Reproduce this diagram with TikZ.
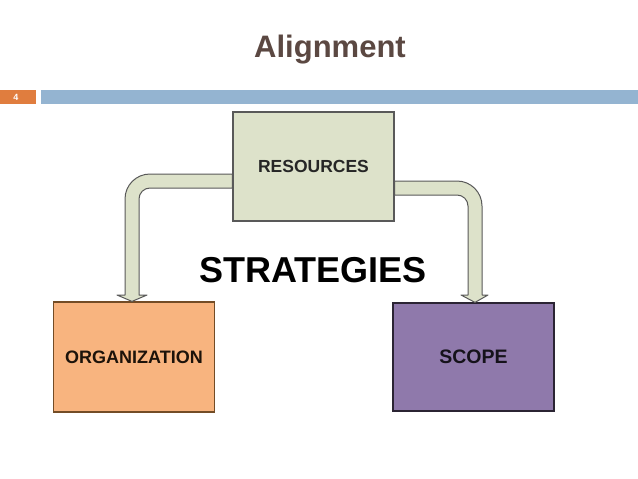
\documentclass[tikz,border=0pt]{standalone}
\usepackage{fontspec}
\setmainfont{Liberation Sans}
\usetikzlibrary{positioning}
\definecolor{titlebrown}{HTML}{5B4842}
\definecolor{numorange}{HTML}{E07D3E}
\definecolor{barblue}{HTML}{94B4D1}
\definecolor{sage}{HTML}{DDE2CA}
\definecolor{peach}{HTML}{F8B47F}
\definecolor{lilac}{HTML}{8F79AB}
\tikzset{
  box/.style={draw, line width=1.2pt, minimum width=161pt, minimum height=109pt,
    font=\fontsize{17.5}{19}\selectfont\bfseries, inner sep=0pt},
  band/.style={draw=black!65, line width=1pt, fill=sage, line join=round}
}
\begin{document}
\begin{tikzpicture}[x=1pt, y=-1pt]
  \useasboundingbox[fill=white] (0,0) rectangle (638,479);
  % ---- Header ----
  \node[font=\fontsize{31}{34}\selectfont\bfseries, text=titlebrown] (title) at (330,50) {Alignment};
  \fill[numorange] (0,90) rectangle (36,104);
  \node[font=\fontsize{9}{10}\selectfont\bfseries, text=white] (num) at (16,97) {4};
  \fill[barblue] (41,90) rectangle (638,104);

  % ---- Boxes ----
  \node[box, fill=sage, draw=black!65, text=black!85] (res) at (313.5,166.5) {RESOURCES};
  \node[box, fill=peach, draw=brown!60!black, text=black!85!brown, minimum height=110pt,
        font=\fontsize{18}{20}\selectfont\bfseries] (org) at (134,357) {ORGANIZATION};
  \node[box, fill=lilac, draw=black!70!lilac, text=black!85!lilac, minimum height=108pt,
        font=\fontsize{19.5}{21}\selectfont\bfseries] (scope) at (473.5,357) {SCOPE};
  \node[font=\fontsize{36}{40}\selectfont\bfseries] (strat) at (313,270) {STRATEGIES};

  % ---- Bent arrows ----
  \draw[band] ([yshift=-7.5pt]res.west) -- (150,174) arc[start angle=90, end angle=180, radius=25pt]
    -- (125,295) -- (117,295) -- ([xshift=-2pt]org.north) -- (147,295) -- (139,295)
    -- (139,199) arc[start angle=180, end angle=90, radius=11pt] -- ([yshift=-21.5pt]res.west) -- cycle;
  \draw[band] ([yshift=-14.5pt]res.east) -- (457,181) arc[start angle=90, end angle=0, radius=25pt]
    -- (482,295) -- (488,295) -- ([xshift=1.5pt]scope.north) -- (461,295) -- (468,295)
    -- (468,206) arc[start angle=0, end angle=90, radius=11pt] -- ([yshift=-28.5pt]res.east) -- cycle;
\end{tikzpicture}
\end{document}
